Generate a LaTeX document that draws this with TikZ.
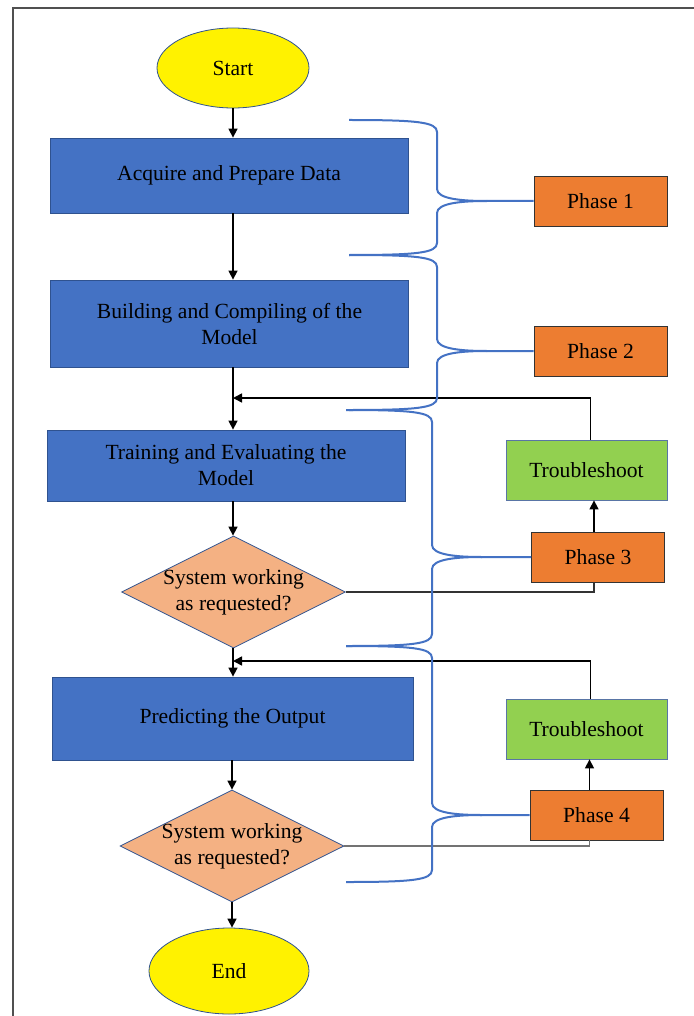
\documentclass[tikz,border=0pt]{standalone}
\usepackage{fontspec}
\setmainfont{Liberation Serif}
\usepackage{tikz}
\usetikzlibrary{shapes.geometric,arrows.meta,calc}
\definecolor{boxBlue}{HTML}{4472C4}
\definecolor{edgeBlue}{HTML}{2F528F}
\definecolor{phaseOrange}{HTML}{ED7D31}
\definecolor{fixGreen}{HTML}{92D050}
\definecolor{askPeach}{HTML}{F4B183}
\definecolor{frameGray}{HTML}{505050}

\begin{document}
\begin{tikzpicture}[
        x=0.5pt, y=-0.5pt,
        font=\fontsize{10.8}{13}\selectfont,
        % --- STYLE CHUNG ---
        common/.style={
            draw=edgeBlue,
            thin,
            align=center,
            inner sep=0pt
        },
        % Start / End
        term_node/.style={
            common,
            ellipse,
            fill=yellow
        },
        % Buoc xu ly (xanh)
        step_node/.style={
            common,
            rectangle,
            fill=boxBlue,
            minimum width=179pt
        },
        % Cau hoi
        ask_node/.style={
            common,
            diamond,
            aspect=2,
            inner xsep=-3pt,
            fill=askPeach,
            minimum width=112pt,
            minimum height=56pt
        },
        % Phase (cam)
        phase_node/.style={
            rectangle,
            draw=black!80,
            thin,
            fill=phaseOrange,
            minimum width=66.5pt,
            minimum height=25pt
        },
        % Troubleshoot (xanh la)
        fix_node/.style={
            common,
            draw=edgeBlue!80,
            fill=fixGreen,
            minimum width=80.5pt,
            minimum height=30pt
        },
        % Duong noi
        flow/.style={
            draw=black,
            line width=0.75pt,
            -{Triangle[length=4.5pt,width=4.5pt]}
        },
        plain/.style={
            draw=black!80,
            line width=0.75pt
        },
        brace/.style={
            draw=boxBlue,
            line width=1pt
        }
    ]

        \useasboundingbox (0,0) rectangle (693,1016);

        % --- KHUNG ---
        \draw[frameGray, line width=0.75pt] (13,1020) -- (13,8) -- (697,8);

        % --- CAC BUOC CHINH ---
        \node[term_node, minimum width=76pt, minimum height=40pt] (start) at (233,68) {Start};
        \node[step_node, minimum height=37.5pt] (acq) at (229,175.5) {Acquire and Prepare Data};
        \node[step_node, minimum height=43.5pt] (build) at (229.5,323.5) {Building and Compiling of the\\Model};
        \node[step_node, minimum height=35.5pt] (train) at (226,465.5) {Training and Evaluating the\\Model};
        \node[ask_node] (ask1) at (233.5,592) {System working\\as requested?};
        \node[step_node, minimum width=180.5pt, minimum height=41.5pt] (pred) at (232.5,718.5) {Predicting the Output};
        \node[ask_node] (ask2) at (232,846) {System working\\as requested?};
        \node[term_node, minimum width=80pt, minimum height=43pt] (finish) at (229,971) {End};

        % --- PHASE & TROUBLESHOOT ---
        \node[phase_node] (ph1) at (600.5,201) {Phase 1};
        \node[phase_node] (ph2) at (600.5,351) {Phase 2};
        \node[fix_node] (fix1) at (586.5,470) {Troubleshoot};
        \node[phase_node] (ph3) at (598,557) {Phase 3};
        \node[fix_node] (fix2) at (586.5,729) {Troubleshoot};
        \node[phase_node] (ph4) at (596.5,815) {Phase 4};

        \coordinate (j1) at (233,398);
        \coordinate (j2) at (233,661);

        % --- MUI TEN CHINH ---
        \draw[flow] (start) -- (start |- acq.north);
        \draw[flow] (acq.south -| start) -- (build.north -| start);
        \draw[flow] (build.south -| start) -- (train.north -| start);
        \draw[flow] (train.south -| start) -- (ask1.north -| start);
        \draw[flow] (ask1.south -| start) -- (pred.north -| start);
        \draw[flow] (pred.south -| ask2) -- (ask2.north);
        \draw[flow] (ask2.south) -- (finish.north -| ask2);

        % --- VONG LAP TROUBLESHOOT ---
        \draw[plain] (ask1.east) -| ([xshift=-2pt]ph3.south);
        \draw[flow] ([xshift=-2pt]ph3.north) -- ([xshift=-2pt]ph3.north |- fix1.south);
        \draw[flow] ([xshift=2pt]fix1.north) |- (j1);
        \draw[plain, draw=black!55] (ask2.east) -| ([xshift=-3.5pt]ph4.south);
        \draw[flow] ([xshift=-3.5pt]ph4.north) -- ([xshift=-3.5pt]ph4.north |- fix2.south);
        \draw[flow] ([xshift=2pt]fix2.north) |- (j2);

        % --- NGOAC NHON ---
        \foreach \xa/\ytop/\ytip/\ybot/\xv/\ph in {349/120/201/255/437/ph1, 349/255/351/410/437/ph2, 346/410/557/646/432/ph3, 346/646/815/882/432/ph4} {
            \draw[brace] (\xa,\ytop) .. controls (\xv-20,\ytop) and (\xv,\ytop+2) .. (\xv,\ytop+12)
                -- (\xv,\ytip-12) .. controls (\xv,\ytip-2) and (\xv+25,\ytip) .. (\xv+50,\ytip) -- (\ph.west);
            \draw[brace] (\xv+50,\ytip) .. controls (\xv+25,\ytip) and (\xv,\ytip+2) .. (\xv,\ytip+12)
                -- (\xv,\ybot-12) .. controls (\xv,\ybot-2) and (\xv-20,\ybot) .. (\xa,\ybot);
        }

    \end{tikzpicture}
\end{document}
